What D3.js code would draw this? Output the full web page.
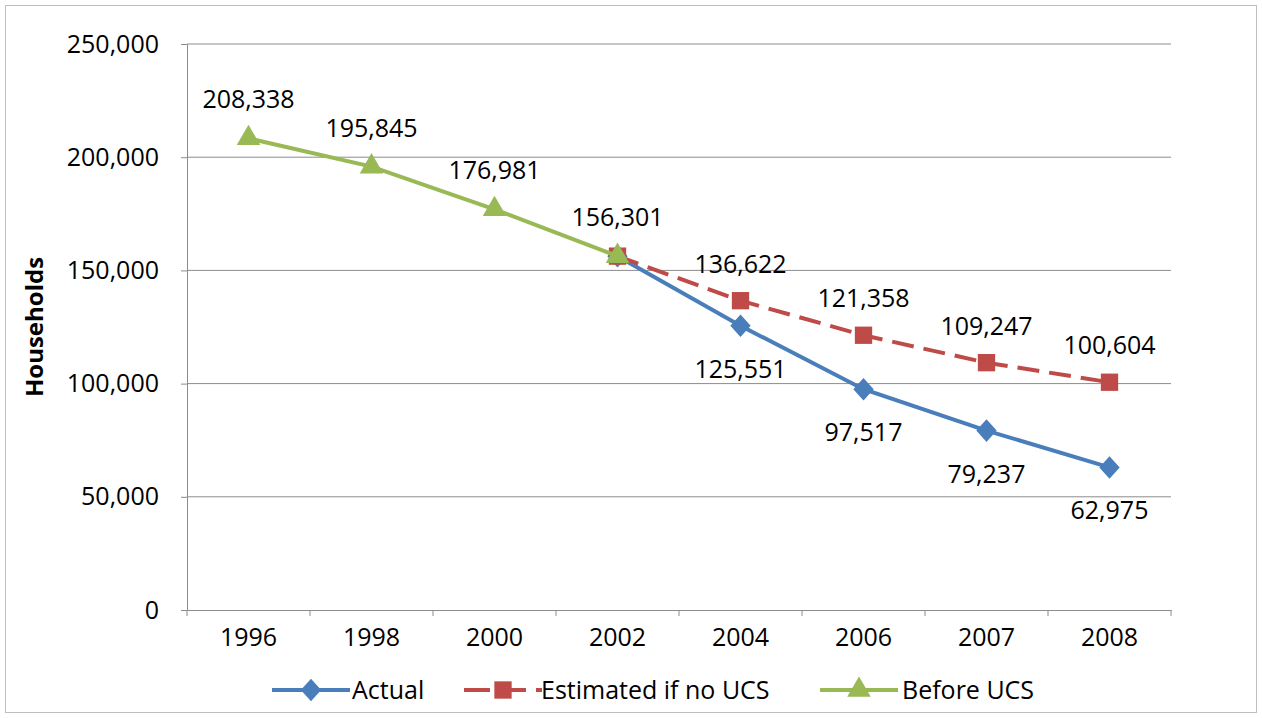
<!DOCTYPE html>
<html><head><meta charset="utf-8">
<script src="https://cdn.jsdelivr.net/npm/d3@7"></script>
<style>body{margin:0;background:#fff}text{font-family:"Open Sans",sans-serif}</style>
</head><body>
<script>
const years = ["1996","1998","2000","2002","2004","2006","2007","2008"];
const actual = [null, null, null, 156301, 125551, 97517, 79237, 62975];
const estimated = [null, null, null, 156301, 136622, 121358, 109247, 100604];
const beforeUcs = [208338, 195845, 176981, 156301, null, null, null, null];
const yTicks = [0, 50000, 100000, 150000, 200000, 250000];

const W = 1262, H = 718;
const FS = 25;
const svg = d3.select("body").append("svg").attr("width", W).attr("height", H);
svg.append("rect").attr("x", 5.5).attr("y", 5.5).attr("width", W - 11).attr("height", H - 11)
    .attr("fill", "#fff").attr("stroke", "#bfbfbf");

const x = d3.scaleBand().domain(years).range([187, 1171]);
const y = d3.scaleLinear().domain([0, 250000]).range([610, 44]);
const cx = d => x(d) + x.bandwidth() / 2;
const fmt = d3.format(",");

// gridlines
svg.append("g").selectAll("line").data(yTicks.slice(1)).join("line")
    .attr("x1", 187).attr("x2", 1171).attr("y1", d => y(d)).attr("y2", d => y(d))
    .attr("stroke", "#8c8c8c").attr("stroke-width", 1);

const yAxis = svg.append("g").attr("transform", "translate(187,0)")
    .call(d3.axisLeft(y).tickValues(yTicks).tickFormat(d => fmt(d)).tickSize(6).tickPadding(22));
yAxis.select(".domain").attr("stroke", "#8c8c8c");
yAxis.selectAll(".tick line").attr("stroke", "#8c8c8c");
yAxis.selectAll("text").attr("font-size", FS).attr("fill", "#000").style("font-family", "'Open Sans',sans-serif");

const xAxis = svg.append("g").attr("transform", "translate(0,610)")
    .call(d3.axisBottom(x).tickSize(0).tickPadding(18));
xAxis.select(".domain").attr("stroke", "#8c8c8c");
xAxis.selectAll("text").attr("font-size", FS).attr("fill", "#000").style("font-family", "'Open Sans',sans-serif");
svg.append("g").selectAll("line").data(d3.range(years.length + 1)).join("line")
    .attr("x1", i => 187 + i * x.bandwidth()).attr("x2", i => 187 + i * x.bandwidth())
    .attr("y1", 610).attr("y2", 616).attr("stroke", "#8c8c8c");

svg.append("text").attr("transform", "translate(43,327) rotate(-90)").attr("text-anchor", "middle")
    .attr("font-size", 24).attr("font-weight", "bold").text("Households");

const series = [
    {name: "Actual", values: actual, color: "#4a7ebb", dash: null, marker: d3.symbolDiamond, size: 230, labelDy: 52},
    {name: "Estimated if no UCS", values: estimated, color: "#be4b48", dash: "22,10", marker: d3.symbolSquare, size: 300, labelDy: -28},
    {name: "Before UCS", values: beforeUcs, color: "#98b954", dash: null, marker: d3.symbolTriangle, size: 240, labelDy: -30}
];
const line = d3.line().defined(d => d.v != null).x(d => cx(d.year)).y(d => y(d.v));
series.forEach(s => {
    const pts = years.map((yr, i) => ({year: yr, v: s.values[i]}));
    svg.append("path").datum(pts).attr("d", line).attr("fill", "none")
        .attr("stroke", s.color).attr("stroke-width", 4).attr("stroke-dasharray", s.dash);
    svg.append("g").selectAll("path").data(pts.filter(d => d.v != null)).join("path")
        .attr("d", d3.symbol(s.marker, s.size)).attr("fill", s.color)
        .attr("transform", d => `translate(${cx(d.year)},${y(d.v)})` + (s.marker === d3.symbolDiamond ? " scale(1.25,0.8)" : ""));
    const lab = pts.filter((d, i) => d.v != null && !(s.name !== "Before UCS" && i === 3));
    svg.append("g").selectAll("text").data(lab).join("text")
        .attr("x", d => cx(d.year)).attr("y", d => y(d.v) + s.labelDy)
        .attr("text-anchor", "middle").attr("font-size", FS).text(d => fmt(d.v));
});

// legend
const leg = [{s: series[0], x: 272, tx: 352}, {s: series[1], x: 464, tx: 541}, {s: series[2], x: 820, tx: 902}];
leg.forEach(l => {
    svg.append("line").attr("x1", l.x).attr("x2", l.x + 78).attr("y1", 690).attr("y2", 690)
        .attr("stroke", l.s.color).attr("stroke-width", 4).attr("stroke-dasharray", l.s.dash ? "26,10" : null);
    svg.append("path").attr("d", d3.symbol(l.s.marker, l.s.size)()).attr("fill", l.s.color)
        .attr("transform", `translate(${l.x + 39},690)` + (l.s.marker === d3.symbolDiamond ? " scale(1.25,0.8)" : ""));
    svg.append("text").attr("x", l.tx).attr("y", 699).attr("font-size", FS).text(l.s.name);
});
</script>
</body></html>
